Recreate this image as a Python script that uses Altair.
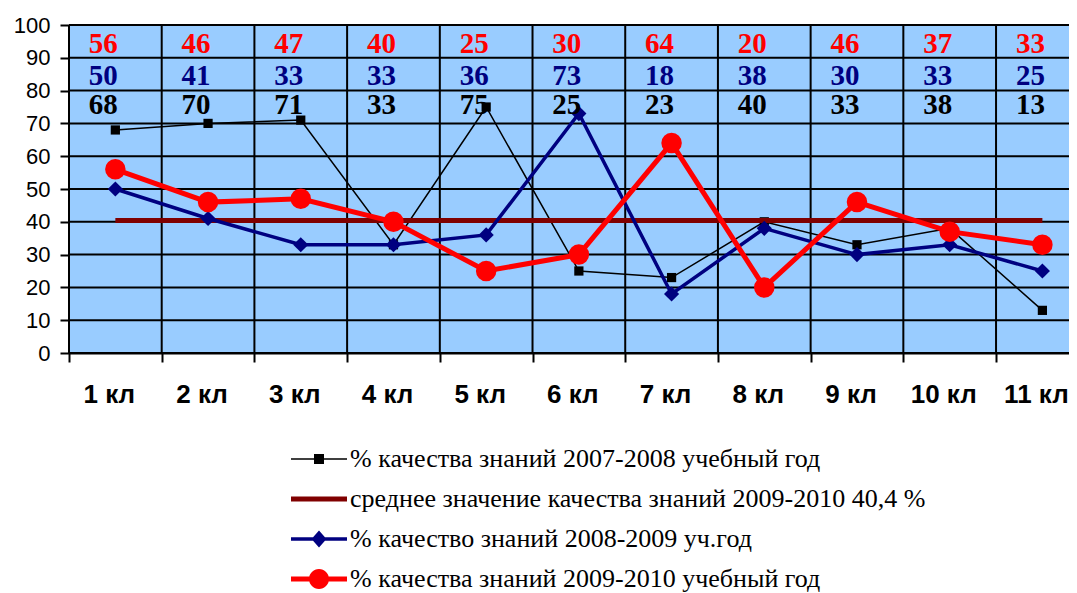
import altair as alt
import pandas as pd

# ---- data ----
classes = ["1 кл", "2 кл", "3 кл", "4 кл", "5 кл", "6 кл", "7 кл", "8 кл", "9 кл", "10 кл", "11 кл"]
positions = [1, 2, 3, 4, 5, 6, 7, 8, 9, 10, 11]
q_2007_2008 = [68, 70, 71, 33, 75, 25, 23, 40, 33, 38, 13]
mean_2009_2010 = [40.4, 40.4, 40.4, 40.4, 40.4, 40.4, 40.4, 40.4, 40.4, 40.4, 40.4]
q_2008_2009 = [50, 41, 33, 33, 36, 73, 18, 38, 30, 33, 25]
q_2009_2010 = [56, 46, 47, 40, 25, 30, 64, 20, 46, 37, 33]

series_names = [
    "% качества знаний 2007-2008 учебный год",
    "среднее значение качества знаний 2009-2010 40,4 %",
    "% качество знаний 2008-2009 уч.год",
    "% качества знаний 2009-2010 учебный год",
]
series_colors = ["#000000", "#800000", "#000080", "#FF0000"]
y_ticks = [0, 10, 20, 30, 40, 50, 60, 70, 80, 90, 100]
x_boundaries = [0.5, 1.5, 2.5, 3.5, 4.5, 5.5, 6.5, 7.5, 8.5, 9.5, 10.5]

# legend symbols: line + marker drawn as filled paths
LINE = lambda h: f"M-2.8,-{h}H2.8V{h}H-2.8Z"
k = 0.5523
circle = (f"M-1,0C-1,-{k} -{k},-1 0,-1C{k},-1 1,-{k} 1,0"
          f"C1,{k} {k},1 0,1C-{k},1 -1,{k} -1,0Z")
legend_paths = [
    LINE(0.08) + "M-0.5,-0.5H0.5V0.5H-0.5Z",
    LINE(0.25),
    LINE(0.17) + "M0,-0.85L0.75,0L0,0.85L-0.75,0Z",
    LINE(0.25) + circle,
]

rows = []
for name, vals in zip(series_names, [q_2007_2008, mean_2009_2010, q_2008_2009, q_2009_2010]):
    for c, p, v in zip(classes, positions, vals):
        rows.append({"cls": c, "pos": p, "value": v, "series": name})
df = pd.DataFrame(rows)
xl = pd.DataFrame({"pos": positions, "label": classes})
ygrid = pd.DataFrame({"value": y_ticks})
xgrid = pd.DataFrame({"pos": x_boundaries})

W, H = 1000, 328

x_scale = alt.Scale(domain=[0.5, 11.287], nice=False, zero=False)
y_scale = alt.Scale(domain=[0, 100], nice=False, zero=False)
x_axis = alt.Axis(values=x_boundaries, labels=False, tickSize=9, title=None, grid=False)
y_axis = alt.Axis(values=y_ticks, tickSize=9, title=None, grid=False,
                  labelPadding=10, labelOverlap=False)
x_enc = alt.X("pos:Q", scale=x_scale, axis=x_axis)
y_enc = alt.Y("value:Q", scale=y_scale, axis=y_axis)

# plot background and grid
bg = alt.Chart(xl).mark_rect(color="#99CCFF").encode(
    x=alt.value(0), x2=alt.value(W), y=alt.value(0), y2=alt.value(H))
hgrid = alt.Chart(ygrid).mark_rule(color="black", strokeWidth=2).encode(
    y=y_enc, x=alt.value(0), x2=alt.value(W))
vgrid = alt.Chart(xgrid).mark_rule(color="black", strokeWidth=2).encode(
    x=x_enc, y=alt.value(0), y2=alt.value(H))

base = alt.Chart(df)


def sel(i):
    return base.transform_filter(alt.datum.series == series_names[i])


black_line = sel(0).mark_line(color=series_colors[0], strokeWidth=1.5).encode(x=x_enc, y=y_enc)
black_pts = sel(0).mark_point(shape="square", filled=True, color=series_colors[0],
                              size=85, opacity=1).encode(x=x_enc, y=y_enc)
mean_line = sel(1).mark_line(color=series_colors[1], strokeWidth=5).encode(x=x_enc, y=y_enc)
navy_line = sel(2).mark_line(color=series_colors[2], strokeWidth=3.5).encode(x=x_enc, y=y_enc)
navy_pts = sel(2).mark_point(shape="diamond", filled=True, color=series_colors[2],
                             size=230, opacity=1).encode(x=x_enc, y=y_enc)
red_line = sel(3).mark_line(color=series_colors[3], strokeWidth=5).encode(x=x_enc, y=y_enc)
red_pts = sel(3).mark_circle(color=series_colors[3], size=420, opacity=1).encode(x=x_enc, y=y_enc)


def labels(i, ypix):
    return sel(i).mark_text(font="Liberation Serif", fontWeight="bold", fontSize=29,
                            color=series_colors[i], baseline="middle", dx=-12).encode(
        x=x_enc, y=alt.value(ypix), text="value:Q")


lab_red = labels(3, 19)
lab_navy = labels(2, 51)
lab_black = labels(0, 80)

xlabels = alt.Chart(xl).mark_text(font="Liberation Sans", fontWeight="bold", fontSize=26,
                                  color="black", baseline="middle", dx=-6).encode(
    x=x_enc, y=alt.value(370), text="label:N")

leg = alt.Legend(title=None, orient="none", legendX=237, legendY=421, direction="vertical",
                 symbolSize=400, symbolStrokeWidth=0, labelFont="Liberation Serif",
                 labelFontSize=26, labelColor="black", labelLimit=900, labelOffset=18,
                 rowPadding=14, padding=0, symbolOffset=0)
legend_layer = base.transform_filter("false").mark_point(filled=True, opacity=1).encode(
    color=alt.Color("series:N", scale=alt.Scale(domain=series_names, range=series_colors), legend=leg),
    shape=alt.Shape("series:N", scale=alt.Scale(domain=series_names, range=legend_paths), legend=leg),
)

chart = alt.layer(
    bg, hgrid, vgrid,
    black_line, black_pts, mean_line, navy_line, navy_pts, red_line, red_pts,
    lab_red, lab_navy, lab_black, xlabels, legend_layer
).properties(
    width=W, height=H,
    background="white",
    autosize=alt.AutoSizeParams(type="none"),
    padding={"left": 61, "top": 17, "right": 0, "bottom": 240},
).configure_view(
    stroke="transparent"
).configure_axis(
    domainColor="black", domainWidth=2, tickColor="black", tickWidth=2,
    labelFont="Liberation Sans", labelFontSize=22, labelColor="black", zindex=1,
)

chart.save("out.html", embed_options={"renderer": "svg", "actions": False})
